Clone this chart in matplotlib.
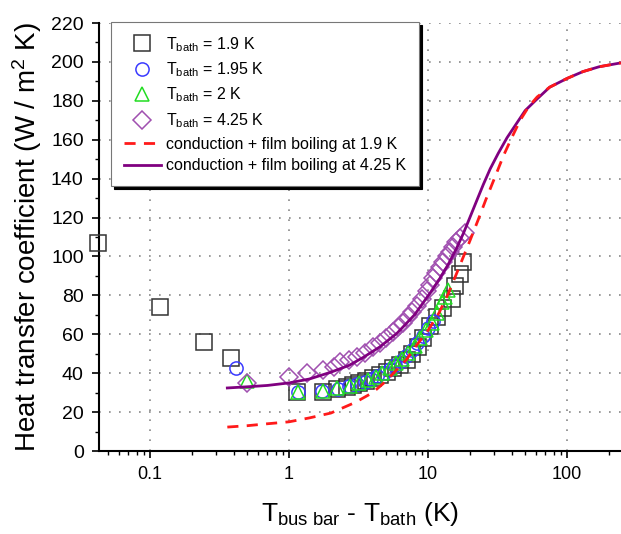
import numpy as np
import matplotlib
matplotlib.use('Agg')
import matplotlib.pyplot as plt
from matplotlib.ticker import MultipleLocator, LogLocator, NullFormatter

plt.rcParams['font.family'] = ['Liberation Sans', 'DejaVu Sans']
plt.rcParams['mathtext.fontset'] = 'custom'
plt.rcParams['mathtext.rm'] = 'Liberation Sans'
plt.rcParams['mathtext.it'] = 'Liberation Sans:italic'

# T_bath = 1.9 K
x_19 = [0.042, 0.118, 0.245, 0.38, 1.14, 1.75, 2.2, 2.6, 2.9, 3.2, 3.6, 4.0,
        4.5, 5.1, 5.6, 6.3, 7.1, 7.7, 8.5, 9.2, 10.3, 11.6, 12.8, 14.9, 15.6,
        17.0, 17.9]
y_19 = [107, 74, 56, 48, 30.5, 30.5, 32, 33, 34, 35, 36, 37.5, 39, 40.5, 42.5,
        44, 47, 50, 53.5, 58, 64, 69, 73.5, 78, 85, 91, 97]

# T_bath = 1.95 K
x_195 = [0.416, 1.16, 1.73, 2.25, 2.7, 3.1, 3.5, 3.9, 4.3, 4.8, 5.3, 5.8, 6.4,
         7.0, 7.7, 8.4, 9.2, 10.0, 10.8]
y_195 = [42.7, 30.5, 31, 32, 33.5, 34.5, 35.5, 37, 38.5, 40, 42, 44, 46.5, 49,
         52, 55.5, 59, 63, 67]

# T_bath = 2 K
x_2 = [0.5, 1.16, 1.75, 2.2, 2.75, 3.2, 3.7, 4.2, 4.7, 5.3, 5.9, 6.5, 7.2, 8.0,
       8.8, 9.7, 10.6, 11.6, 12.6, 13.3, 13.9]
y_2 = [36, 30.5, 31, 32.5, 33.5, 35, 36.5, 38, 40, 42.5, 45, 47.5, 50.5, 54,
       58, 62, 66, 71, 76.5, 79, 83]

# T_bath = 4.25 K
x_425 = [0.5, 1.0, 1.35, 1.76, 2.1, 2.33, 2.7, 3.1, 3.5, 4.0, 4.5, 5.0, 5.6,
         6.1, 6.6, 7.2, 7.7, 8.3, 9.0, 9.8, 10.3, 10.9, 11.5, 12.2, 12.9, 13.7,
         14.4, 15.1, 16.0, 17.0, 18.5]
y_425 = [35, 38, 40, 41.5, 43, 45.5, 47, 48.5, 50.5, 53.5, 55.5, 58, 61, 63.5,
         66, 69, 71.5, 74.5, 78, 82.5, 85.5, 89, 91.5, 94.5, 97, 100, 102.5,
         105, 107.5, 109.5, 112]

# conduction + film boiling at 1.9 K
x_fb19 = [0.36, 0.5, 0.7, 1.0, 1.4, 2.0, 3.0, 4.0, 5.0, 6.0, 7.0, 8.0, 10, 12,
          14, 16, 18, 20, 23, 26, 30, 35, 40, 46, 53, 61, 75, 100, 130, 170,
          244]
y_fb19 = [12.3, 13, 14, 15, 17, 19.5, 25, 30, 36, 42, 47, 53, 62, 71, 81, 91,
          100, 108, 119, 129, 140, 152, 161, 170, 177, 182, 187, 191.5, 195,
          197.5, 199.5]

# conduction + film boiling at 4.25 K
x_fb425 = [0.36, 0.5, 0.7, 1.0, 1.4, 2.0, 2.7, 3.4, 4.5, 6.0, 8.0, 10.3, 12,
           14, 16, 18, 20, 22.5, 25, 28, 32, 37, 43, 50, 61, 75, 100, 130, 170,
           244]
y_fb425 = [32.4, 33, 33.7, 35, 37, 40.5, 44, 48, 53.5, 60.6, 70, 81, 88, 96,
           104, 112, 120, 129, 137, 145, 153, 161, 168, 175, 181, 187, 191.5,
           195, 197.5, 199.5]

fig = plt.figure(figsize=(6.21, 5.34), dpi=100)
ax = fig.add_axes([99 / 621, 83 / 534, 522 / 621, 428 / 534])

ax.plot(x_19, y_19, 's', mfc='none', mec='#333333', ms=11.5, mew=1.1,
        label=r'T$_{\mathrm{bath}}$ = 1.9 K', zorder=3, clip_on=False)
ax.plot(x_195, y_195, 'o', mfc='none', mec='#3a3aff', ms=9.5, mew=1.1,
        label=r'T$_{\mathrm{bath}}$ = 1.95 K', zorder=3)
ax.plot(x_2, y_2, '^', mfc='none', mec='#22dd22', ms=9.5, mew=1.1,
        label=r'T$_{\mathrm{bath}}$ = 2 K', zorder=3)
ax.plot(x_425, y_425, 'D', mfc='none', mec='#a050b0', ms=9, mew=1.1,
        label=r'T$_{\mathrm{bath}}$ = 4.25 K', zorder=3)
ax.plot(x_fb19, y_fb19, '--', color='#ff1a1a', lw=2.0, dashes=(4, 3),
        label='conduction + film boiling at 1.9 K', zorder=5)
ax.plot(x_fb425, y_fb425, '-', color='#800080', lw=2.0,
        label='conduction + film boiling at 4.25 K', zorder=4)

ax.set_xscale('log')
ax.set_xlim(0.04297, 244.5)
ax.set_ylim(0, 220)
ax.set_xticks([0.1, 1, 10, 100])
ax.set_xticklabels(['0.1', '1', '10', '100'])
ax.xaxis.set_minor_locator(LogLocator(base=10, subs=np.arange(2, 10)))
ax.xaxis.set_minor_formatter(NullFormatter())
ax.yaxis.set_major_locator(MultipleLocator(20))
ax.yaxis.set_minor_locator(MultipleLocator(10))

ax.grid(True, which='major', color='#888888', linestyle=(0, (1, 5)), lw=1.2)
for s in ['top', 'right']:
    ax.spines[s].set_visible(False)
for s in ['left', 'bottom']:
    ax.spines[s].set_linewidth(1.5)
ax.tick_params(which='major', direction='out', length=5, width=1.2)
ax.tick_params(which='minor', direction='out', length=3, width=1.0)
ax.tick_params(axis='x', which='major', labelsize=13, pad=6)
ax.tick_params(axis='y', which='major', labelsize=14, pad=6)

ax.set_xlabel(r'T$_{\mathrm{bus\ bar}}$ - T$_{\mathrm{bath}}$ (K)',
              fontsize=19, labelpad=12)
ax.set_ylabel(r'Heat transfer coefficient (W / m$^{2}$ K)', fontsize=20,
              labelpad=5)

leg = ax.legend(loc='upper left', bbox_to_anchor=(0.023, 1.002),
                borderaxespad=0, fontsize=11.5, frameon=True, fancybox=False,
                shadow={'color': 'black', 'alpha': 1.0}, edgecolor='#777777',
                borderpad=0.8, labelspacing=0.42, handlelength=2.3,
                handletextpad=0.35)
leg.get_frame().set_linewidth(0.8)
leg.set_zorder(10)

fig.savefig('out.png', dpi=100)
